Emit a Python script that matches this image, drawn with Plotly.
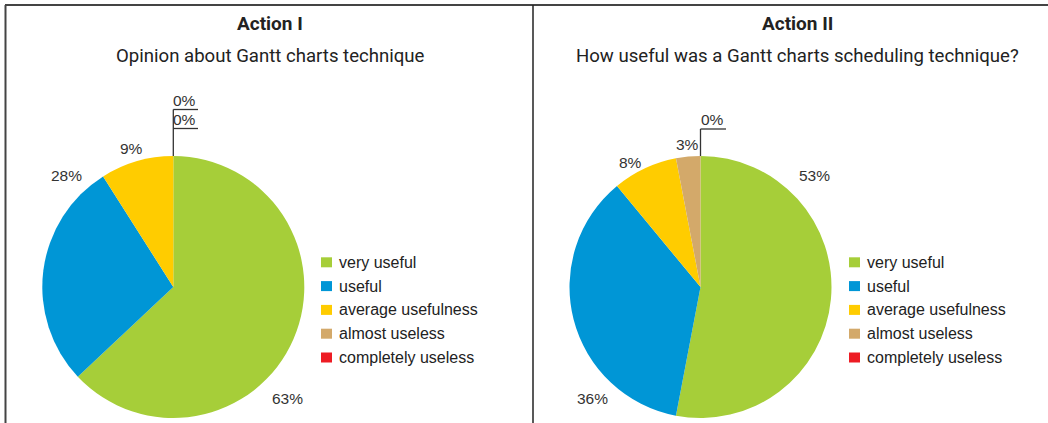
import plotly.graph_objects as go

# --- data -------------------------------------------------------------
categories = ["very useful", "useful", "average usefulness",
              "almost useless", "completely useless"]
action1_values = [63, 28, 9, 0, 0]
action2_values = [53, 36, 8, 3, 0]

panel_titles = ["Action I", "Action II"]
panel_subtitles = ["Opinion about Gantt charts technique",
                   "How useful was a Gantt charts scheduling technique?"]

colors = ["#A6CE39", "#0096D6", "#FFCC00", "#D3A96A", "#ED1C24"]

# --- canvas helpers ---------------------------------------------------
W, H = 1048, 423


def fx(px):
    return px / W


def fy(py):
    return 1 - py / H


def note(x, y, text, font, xanchor="center"):
    return dict(x=fx(x), y=fy(y), xref="paper", yref="paper", text=text,
                showarrow=False, xanchor=xanchor, yanchor="middle", font=font)


R = 131
centers = [(173.3, 287), (700.5, 287)]

fig = go.Figure()
for (cx, cy), vals in zip(centers, [action1_values, action2_values]):
    fig.add_trace(go.Pie(
        labels=categories, values=vals, sort=False, direction="clockwise",
        rotation=0, textinfo="none", hoverinfo="label+percent",
        marker=dict(colors=colors, line=dict(width=0)),
        domain=dict(x=[fx(cx - R), fx(cx + R)], y=[fy(cy + R), fy(cy - R)]),
        showlegend=False,
    ))

annotations = []
shapes = []

# panel headings
title_font = dict(family="Roboto", size=19, color="#222")
sub_font = dict(family="Roboto", size=18.6, color="#222")
for title, sub, mid in zip(panel_titles, panel_subtitles, [270, 797]):
    annotations.append(note(mid, 24, f"<b>{title}</b>", title_font))
    annotations.append(note(mid, 56, sub, sub_font))

# value labels placed around each pie (pixel anchors on the canvas)
label_font = dict(family="Liberation Sans", size=15.5, color="#333")
label_spots = [
    [(287, 398), (66, 175), (131, 149), (184, 119.5), (184, 100.5)],
    [(814, 176), (592, 398), (630, 162), (687, 144), (712, 119.5)],
]
for vals, spots in zip([action1_values, action2_values], label_spots):
    for v, (lx, ly) in zip(vals, spots):
        annotations.append(note(lx, ly, f"{v}%", label_font))

# leader lines for the zero-valued slices
line_style = dict(color="#333", width=1.3)
leaders = [
    [(173.3, 156), (173.3, 109.5)],
    [(173.3, 109.5), (198, 109.5)],
    [(173.3, 128.5), (198, 128.5)],
    [(700.5, 156), (700.5, 129)],
    [(700.5, 129), (726, 129)],
]
for (x0, y0), (x1, y1) in leaders:
    shapes.append(dict(type="line", xref="paper", yref="paper",
                       x0=fx(x0), y0=fy(y0), x1=fx(x1), y1=fy(y1),
                       line=line_style))

# legends beside each pie
legend_font = dict(family="Liberation Sans", size=16, color="#222")
legend_x = [321, 849]
for lx in legend_x:
    for i, (cat, col) in enumerate(zip(categories, colors)):
        yc = 262.3 + i * 23.8
        shapes.append(dict(type="rect", xref="paper", yref="paper",
                           x0=fx(lx), x1=fx(lx + 11), y0=fy(yc - 5),
                           y1=fy(yc + 5), fillcolor=col, line=dict(width=0)))
        annotations.append(note(lx + 16, yc, cat, legend_font, "left"))

# panel frame
frame = dict(color="#444", width=2)
shapes += [
    dict(type="line", xref="paper", yref="paper", x0=fx(5), x1=1,
         y0=fy(5), y1=fy(5), line=frame),
    dict(type="line", xref="paper", yref="paper", x0=fx(5.5), x1=fx(5.5),
         y0=fy(5), y1=0, line=frame),
    dict(type="line", xref="paper", yref="paper", x0=fx(533), x1=fx(533),
         y0=fy(5), y1=0, line=dict(color="#222", width=1.5)),
]

fig.update_layout(
    width=W, height=H, margin=dict(l=0, r=0, t=0, b=0),
    paper_bgcolor="white", plot_bgcolor="white",
    annotations=annotations, shapes=shapes,
)

fig.write_html("out.html")
